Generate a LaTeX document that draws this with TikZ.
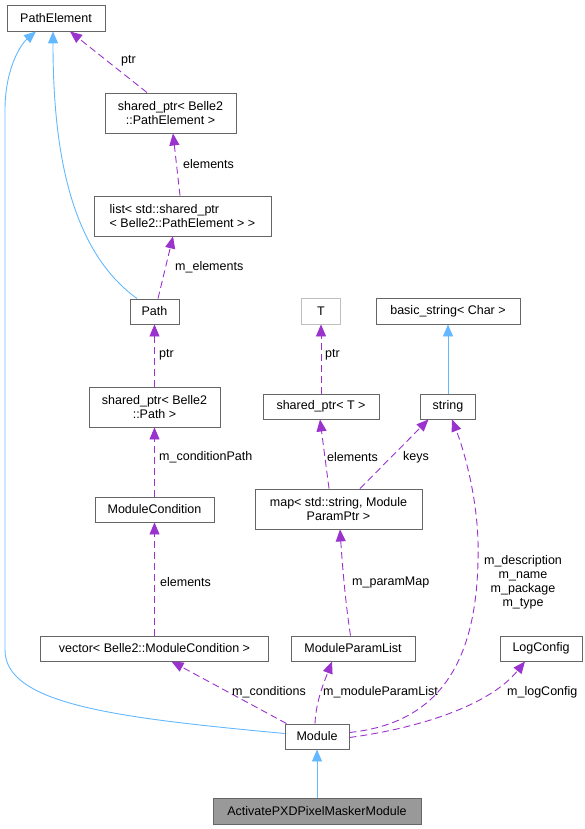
\documentclass[tikz,border=0pt]{standalone}
\usepackage{fontspec}
\setmainfont{Liberation Sans}
\usetikzlibrary{arrows.meta}
\definecolor{edgeB}{HTML}{63B8FF}
\definecolor{edgeP}{HTML}{9A32CD}
\definecolor{boxG}{HTML}{666666}
\definecolor{boxL}{HTML}{BFBFBF}
\definecolor{fillG}{HTML}{999999}

\begin{document}
\begin{tikzpicture}[x=1pt, y=-1pt, font=\fontsize{12.5}{14}\selectfont,
  >={Triangle[length=12pt,width=10pt]},
  cls/.style={rectangle, draw=boxG, line width=0.9pt, inner sep=0pt, align=center, minimum height=25pt},
  lbl/.style={inner sep=0pt, anchor=west},
  inh/.style={->, draw=edgeB, line width=0.9pt},
  use/.style={->, draw=edgeP, line width=0.9pt, dash pattern=on 7pt off 4pt}]
  \useasboundingbox (0,0) rectangle (585,829);
  % classes
  \node[cls, minimum width=98pt, minimum height=26pt] (pe) at (56,18) {PathElement};
  \node[cls, minimum width=131pt, minimum height=40pt] (sppe) at (170.5,113) {shared\_ptr< Belle2\\::PathElement >};
  \node[cls, minimum width=177pt, minimum height=40pt, align=left] (lst) at (182.5,216) {list< std::shared\_ptr\\< Belle2::PathElement > >};
  \node[cls, minimum width=49pt] (path) at (154.5,311.5) {Path};
  \node[cls, minimum width=131pt, minimum height=40pt] (sppath) at (154.5,407) {shared\_ptr< Belle2\\::Path >};
  \node[cls, minimum width=119pt] (mcond) at (154.5,509.5) {ModuleCondition};
  \node[cls, minimum width=228pt] (vec) at (154.5,648.5) {vector< Belle2::ModuleCondition >};
  \node[cls, minimum width=124pt] (mpl) at (353,648.5) {ModuleParamList};
  \node[cls, minimum width=82pt] (logc) at (541,648.5) {LogConfig};
  \node[cls, minimum width=64pt] (mod) at (317,736.5) {Module};
  \node[cls, minimum width=208pt, minimum height=26pt, fill=fillG] (act) at (317,811) {ActivatePXDPixelMaskerModule};
  \node[cls, draw=boxL, minimum width=39pt, minimum height=26pt] (t) at (321,311) {T};
  \node[cls, minimum width=144pt, minimum height=26pt] (bstr) at (448,311) {basic\_string< Char >};
  \node[cls, minimum width=116pt] (spt) at (321,406.5) {shared\_ptr< T >};
  \node[cls, minimum width=55pt] (str) at (448,406.5) {string};
  \node[cls, minimum width=167pt, minimum height=40pt] (map) at (338.5,509) {map< std::string, Module\\ParamPtr >};
  % inheritance
  \draw[inh] ([xshift=-17.5]path.north) .. controls (70,250) and (53,150) .. ([xshift=-3]pe.south);
  \draw[inh] ([yshift=3]mod.west) .. controls (120,718) and (5,705) .. (5,650) -- (5,110) .. controls (5,70) and (20,45) .. ([xshift=-20]pe.south);
  \draw[inh] (act) -- (mod);
  \draw[inh] (str) -- (bstr);
  % members
  \draw[use] ([xshift=-23.5]sppe.north) -- ([xshift=14]pe.south);
  \draw[use] ([xshift=-2.5]lst.north) -- ([xshift=2.5]sppe.south);
  \draw[use] ([xshift=3.5]path.north) -- ([xshift=-9.5]lst.south);
  \draw[use] (sppath) -- (path);
  \draw[use] (mcond) -- (sppath);
  \draw[use] (vec) -- (mcond);
  \draw[use] ([xshift=-30.5]mod.north) -- ([xshift=17]vec.south);
  \draw[use] ([xshift=-2]mod.north) .. controls (316,700) and (325,680) .. ([xshift=-21]mpl.south);
  \draw[use] ([xshift=-2.5]mpl.north) .. controls (345,600) and (342,560) .. ([xshift=1.5]map.south);
  \draw[use] ([xshift=-9.5]map.north) -- ([xshift=-1]spt.south);
  \draw[use] ([xshift=21.5]map.north) -- ([xshift=-19.5]str.south);
  \draw[use] (spt) -- (t);
  \draw[use] ([yshift=4]mod.east) .. controls (420,725) and (476,685) .. (478,560) .. controls (480,500) and (462,445) .. ([xshift=4]str.south);
  \draw[use] ([yshift=-1]mod.east) .. controls (420,728) and (490,705) .. ([xshift=-16]logc.south);
  % labels
  \node[lbl] (lptrpe) at (121,61) {ptr};
  \node[lbl] (lelpe) at (183,164) {elements};
  \node[lbl] (lmel) at (175,267) {m\_elements};
  \node[lbl] (lptrpath) at (159,355) {ptr};
  \node[lbl] (lcondpath) at (159,457) {m\_conditionPath};
  \node[lbl] (lelcond) at (160,582) {elements};
  \node[lbl] (lcond) at (232,692) {m\_conditions};
  \node[lbl] (lmpl) at (323,692) {m\_moduleParamList};
  \node[lbl] (lpmap) at (352,582) {m\_paramMap};
  \node[lbl] (lelt) at (327,457) {elements};
  \node[lbl] (lkeys) at (403,457) {keys};
  \node[lbl] (lptrt) at (325,355) {ptr};
  \node[lbl] (llog) at (507,692) {m\_logConfig};
  \node[lbl, anchor=center, align=center] (lstr) at (523,582) {m\_description\\m\_name\\m\_package\\m\_type};
\end{tikzpicture}
\end{document}
